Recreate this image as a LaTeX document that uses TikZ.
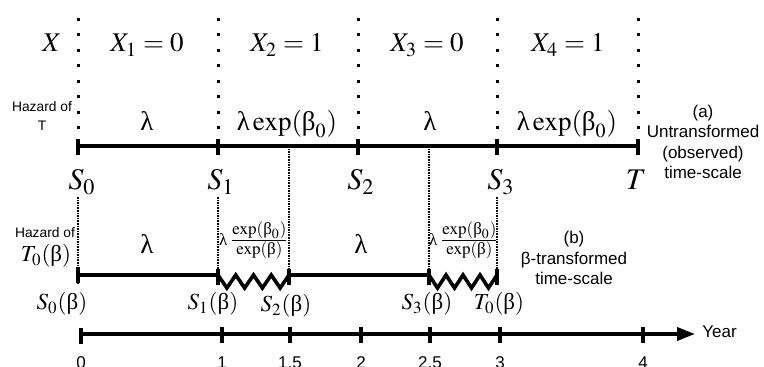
\documentclass[tikz,border=0pt]{standalone}
\usepackage{mathptmx}
\usepackage{amsmath}
\usepackage{fontspec}
\setmainfont{Liberation Serif}
\setsansfont{Liberation Sans}
\usetikzlibrary{arrows.meta,calc}

\newcommand{\ulam}{\text{λ}}
\newcommand{\ubeta}{\text{β}}

\begin{document}
\begin{tikzpicture}[x=0.5pt, y=-0.5pt,
			axis/.style={line width=1.8pt},
			tickmark/.style={line width=1.8pt},
			sparsedot/.style={line width=1.5pt, dash pattern=on 1.5pt off 6.25pt},
			densedot/.style={line width=1.3pt, dash pattern=on 0.8pt off 0.5pt},
			big/.style={font=\fontsize{13.5}{16}\selectfont, inner sep=0pt},
			lab/.style={font=\fontsize{15}{18}\selectfont, inner sep=0pt},
			blab/.style={font=\fontsize{11.5}{14}\selectfont, inner sep=0pt},
			fraclab/.style={font=\fontsize{11.5}{14}\selectfont, inner sep=0pt},
			haz/.style={font=\sffamily\fontsize{6.9}{9.5}\selectfont, align=center, inner sep=0pt},
			scalelab/.style={font=\sffamily\fontsize{8.5}{10.2}\selectfont, align=center, inner sep=0pt},
			yr/.style={font=\sffamily\fontsize{8.5}{10}\selectfont, inner sep=0pt}
			]
			\useasboundingbox (0,0) rectangle (764,367);
			
			% --------------------------------------------------------------------
			% coordinates
			% --------------------------------------------------------------------
			\coordinate (A0) at (78,146);
			\coordinate (A1) at (218,146);
			\coordinate (A2) at (358,146);
			\coordinate (A3) at (497,146);
			\coordinate (AT) at (638,146);
			
			\coordinate (B0) at (78,275);
			\coordinate (B1) at (218,275);
			\coordinate (B2) at (289,275);
			\coordinate (B3) at (429,275);
			\coordinate (B4) at (497,275);
			
			\coordinate (top) at (0,18);
			\coordinate (topend) at (0,131);
			\coordinate (mid) at (0,197);
			
			% --------------------------------------------------------------------
			% covariate X (top)
			% --------------------------------------------------------------------
			\draw[sparsedot] (A0 |- top) -- (A0 |- topend);
			\draw[sparsedot] (A1 |- top) -- (A1 |- topend);
			\draw[sparsedot] (A2 |- top) -- (A2 |- topend);
			\draw[sparsedot] (A3 |- top) -- (A3 |- topend);
			\draw[sparsedot] (AT |- top) -- (AT |- topend);
			
			\node[big, anchor=base] (xlab) at (52,52) {$X$};
			\node[big, anchor=base] (x1) at (147,52) {$X_1=0$};
			\node[big, anchor=base] (x2) at (287,52) {$X_2=1$};
			\node[big, anchor=base] (x3) at (427,52) {$X_3=0$};
			\node[big, anchor=base] (x4) at (568,52) {$X_4=1$};
			
			% (a) untransformed time-scale
			\node[haz] (hazT) at (42,116) {Hazard of\\T};
			\node[big, anchor=base] (h1) at (147,131) {$\ulam$};
			\node[big, anchor=base] (h2) at (287,131) {$\ulam\exp(\ubeta_0)$};
			\node[big, anchor=base] (h3) at (430,131) {$\ulam$};
			\node[big, anchor=base] (h4) at (567,131) {$\ulam\exp(\ubeta_0)$};
			
			\draw[axis] (A0) -- (AT);
			\draw[tickmark] ($(A0)+(0,-7)$) -- ($(A0)+(0,9)$);
			\draw[tickmark] ($(A1)+(0,-7)$) -- ($(A1)+(0,9)$);
			\draw[tickmark] ($(A2)+(0,-7)$) -- ($(A2)+(0,9)$);
			\draw[tickmark] ($(A3)+(0,-7)$) -- ($(A3)+(0,9)$);
			\draw[tickmark] ($(AT)+(0,-7)$) -- ($(AT)+(0,9)$);
			
			\node[lab, anchor=base] (s0) at (82,190) {$S_0$};
			\node[lab, anchor=base] (s1) at (221,190) {$S_1$};
			\node[lab, anchor=base] (s2) at (361,190) {$S_2$};
			\node[lab, anchor=base] (s3) at (501,190) {$S_3$};
			\node[lab, anchor=base] (sT) at (636,190) {$T$};
			
			\node[scalelab] (scalea) at (703,142) {(a)\\Untransformed\\(observed)\\time-scale};
			
			% --------------------------------------------------------------------
			% (b) beta-transformed time-scale
			% --------------------------------------------------------------------
			\draw[densedot] (B0 |- mid) -- ($(B0)+(0,8)$);
			\draw[densedot] (B1 |- mid) -- (B1);
			\draw[densedot] (B2 |- A0) -- (B2);
			\draw[densedot] (B3 |- A0) -- (B3);
			\draw[densedot] (B4 |- mid) -- ($(B4)+(0,8)$);
			
			\node[haz] (hazT0) at (45,233) {Hazard of};
			\node[blab] (T0lab) at (46,256) {$T_0(\ubeta)$};
			\node[big, anchor=base] (g1) at (147,254) {$\ulam$};
			\node[fraclab] (g2) at (254,240) {${\scriptstyle\ulam}\,\frac{\exp(\ubeta_0)}{\exp(\ubeta)}$};
			\node[big, anchor=base] (g3) at (361,254) {$\ulam$};
			\node[fraclab] (g4) at (464,240) {${\scriptstyle\ulam}\,\frac{\exp(\ubeta_0)}{\exp(\ubeta)}$};
			
			\draw[axis] (B0) -- (B1);
			\draw[axis, line join=miter] (B1) -- ++(8.875,13) -- ++(8.875,-13) -- ++(8.875,13) -- ++(8.875,-13)
				-- ++(8.875,13) -- ++(8.875,-13) -- ++(8.875,13) -- ++(8.875,-13);
			\draw[axis] (B2) -- (B3);
			\draw[axis, line join=miter] (B3) -- ++(8.5,13) -- ++(8.5,-13) -- ++(8.5,13) -- ++(8.5,-13)
				-- ++(8.5,13) -- ++(8.5,-13) -- ++(8.5,13) -- ++(8.5,-13);
			\draw[tickmark] ($(B0)+(0,-8)$) -- ($(B0)+(0,8)$);
			\draw[tickmark] ($(B1)+(0,-6)$) -- ($(B1)+(0,10)$);
			\draw[tickmark] ($(B2)+(0,-6)$) -- ($(B2)+(0,10)$);
			\draw[tickmark] ($(B3)+(0,-6)$) -- ($(B3)+(0,10)$);
			\draw[tickmark] ($(B4)+(0,-6)$) -- ($(B4)+(0,10)$);
			
			\node[blab, anchor=base] (sb0) at (62,310) {$S_0(\ubeta)$};
			\node[blab, anchor=base] (sb1) at (213,310) {$S_1(\ubeta)$};
			\node[blab, anchor=base] (sb2) at (286,312) {$S_2(\ubeta)$};
			\node[blab, anchor=base] (sb3) at (427,310) {$S_3(\ubeta)$};
			\node[blab, anchor=base] (sbT) at (499,310) {$T_0(\ubeta)$};
			
			\node[scalelab] (scaleb) at (574,258) {(b)\\β-transformed\\time-scale};
			
			% --------------------------------------------------------------------
			% calendar axis
			% --------------------------------------------------------------------
			\coordinate (Y0) at (81,334);
			\coordinate (Y1) at (222,334);
			\coordinate (Y15) at (290,334);
			\coordinate (Y2) at (361,334);
			\coordinate (Y25) at (430,334);
			\coordinate (Y3) at (500,334);
			\coordinate (Y4) at (643,334);
			\coordinate (Yend) at (695,334);
			
			\draw[axis, -{Triangle[length=9pt,width=6.5pt]}] (Y0) -- (Yend);
			\draw[tickmark] ($(Y0)+(0,-6)$) -- ($(Y0)+(0,10)$);
			\draw[tickmark] ($(Y1)+(0,-7)$) -- ($(Y1)+(0,9)$);
			\draw[tickmark] ($(Y15)+(0,-7)$) -- ($(Y15)+(0,9)$);
			\draw[tickmark] ($(Y2)+(0,-7)$) -- ($(Y2)+(0,9)$);
			\draw[tickmark] ($(Y25)+(0,-7)$) -- ($(Y25)+(0,9)$);
			\draw[tickmark] ($(Y3)+(0,-7)$) -- ($(Y3)+(0,9)$);
			\draw[tickmark] ($(Y4)+(0,-7)$) -- ($(Y4)+(0,9)$);
			
			\node[yr, anchor=west] (year) at (702,332) {Year};
			\node[yr] (n0) at (81,363) {0};
			\node[yr] (n1) at (222,363) {1};
			\node[yr] (n15) at (290,363) {1.5};
			\node[yr] (n2) at (361,363) {2};
			\node[yr] (n25) at (430,363) {2.5};
			\node[yr] (n3) at (500,363) {3};
			\node[yr] (n4) at (643,363) {4};
			
		\end{tikzpicture}
\end{document}
